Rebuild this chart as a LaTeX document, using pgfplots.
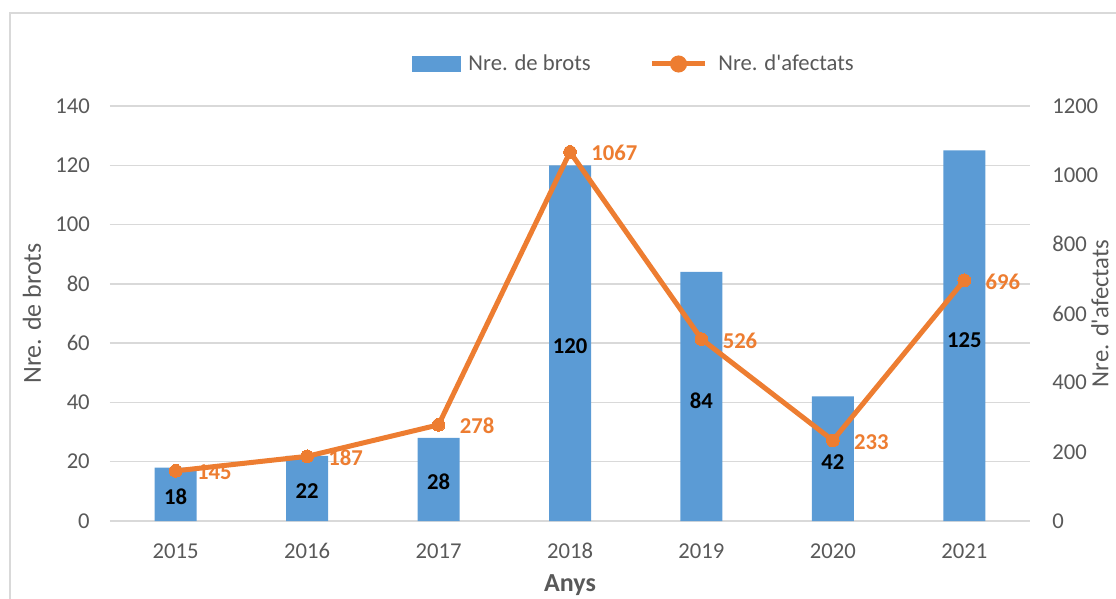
\documentclass[border=0pt]{standalone}
\usepackage{pgfplots}
\pgfplotsset{compat=1.18}
\usepackage{fontspec}
\setmainfont{Carlito}[Ligatures=TeXOff]
\definecolor{barblue}{HTML}{5B9BD5}
\definecolor{lineorange}{HTML}{ED7D31}
\definecolor{txtgray}{HTML}{595959}
\definecolor{gridgray}{HTML}{D9D9D9}
\newcommand\tfont{\fontsize{17}{20.4}\selectfont}
\newcommand\lfont{\fontsize{19.5}{23.4}\selectfont}
\begin{document}
\begin{tikzpicture}
\useasboundingbox (-82.5pt,-58.5pt) rectangle (754.5pt,390.75pt);
\draw[gridgray, line width=1.2pt] (-75pt,-70pt) -- (-75pt,381pt) -- (770pt,381pt);
\begin{axis}[
  at={(0,0)}, anchor=south west,
  scale only axis, width=690pt, height=311.25pt,
  xmin=-0.5, xmax=6.5, ymin=0, ymax=140,
  xtick={0,1,2,3,4,5,6},
  xticklabels={2015,2016,2017,2018,2019,2020,2021},
  ytick={0,20,...,140},
  major tick length=0pt,
  separate axis lines,
  axis x line*=bottom, axis y line*=left,
  x axis line style={draw=gridgray, line width=1pt, -},
  y axis line style={draw=none},
  ymajorgrids, grid style={gridgray, line width=1pt},
  /pgf/number format/assume math mode=true,
  ticklabel style={font=\tfont, text=txtgray},
  xticklabel style={anchor=center},
  xticklabel shift=22.5pt,
  yticklabel style={anchor=east, inner sep=0pt},
  yticklabel shift=15pt,
  xlabel={\textbf{Anys}},
  xlabel style={font=\lfont, text=txtgray, at={(axis description cs:0.5,0)}, anchor=center, yshift=-48pt},
  ylabel={Nre. de brots},
  ylabel style={font=\lfont, text=txtgray, at={(axis description cs:-0.0848,0.5)}, anchor=center},
  clip=false,
]
\addplot[ybar, bar width=31.5pt, fill=barblue, draw=none] coordinates {
  (0,18) (1,22) (2,28) (3,120) (4,84) (5,42) (6,125)};
\addplot[draw=none, mark=none, point meta=explicit symbolic,
  nodes near coords, nodes near coords style={anchor=center, font=\tfont\bfseries, text=black, inner sep=0pt}]
  coordinates {(0,8.3) [18] (1,10) [22] (2,13.2) [28] (3,59) [120] (4,40.5) [84] (5,20) [42] (6,61) [125]};
\end{axis}
\begin{axis}[
  at={(0,0)}, anchor=south west,
  scale only axis, width=690pt, height=311.25pt,
  xmin=-0.5, xmax=6.5, ymin=0, ymax=1200,
  ytick={0,200,...,1200},
  major tick length=0pt,
  axis x line=none,
  axis y line*=right,
  y axis line style={draw=none},
  /pgf/number format/assume math mode=true,
  /pgf/number format/1000 sep={},
  ticklabel style={font=\tfont, text=txtgray},
  yticklabel style={anchor=west, inner sep=0pt},
  yticklabel shift=16.5pt,
  ylabel={Nre. d'afectats},
  ylabel style={font=\fontsize{18.5}{22}\selectfont, text=txtgray, at={(axis description cs:1.0761,0.5)}, anchor=center, rotate=0, inner sep=0pt},
  clip=false,
  legend columns=-1,
  legend style={at={(axis description cs:0.3283,1.1012)}, anchor=west, draw=none, fill=none,
    inner sep=0pt, font=\tfont, text=txtgray,
    /tikz/every even column/.append style={column sep=42pt}},
]
\addlegendimage{legend image code/.code={\fill[barblue] (0pt,-5.6pt) rectangle (36pt,5.6pt); \path (39.75pt,0pt);}}
\addlegendentry{Nre. de brots}
\addplot[lineorange, line width=3.75pt, mark=*, mark size=4.8pt, mark options={fill=lineorange, draw=lineorange, line width=0pt},
  legend image code/.code={\draw[lineorange, line width=3.75pt] (0pt,0pt) -- (40pt,0pt); \fill[lineorange] (20pt,0pt) circle (4.5pt); \path (46pt,0pt);},
  point meta=explicit symbolic,
  nodes near coords, nodes near coords style={anchor=west, xshift=16pt, yshift=-1pt, font=\tfont\bfseries, text=lineorange, inner sep=0pt}]
  coordinates {(0,145) [145] (1,187) [187] (2,278) [278] (3,1067) [1067] (4,526) [526] (5,233) [233] (6,696) [696]};
\addlegendentry{Nre. d'afectats}
\end{axis}
\end{tikzpicture}
\end{document}
